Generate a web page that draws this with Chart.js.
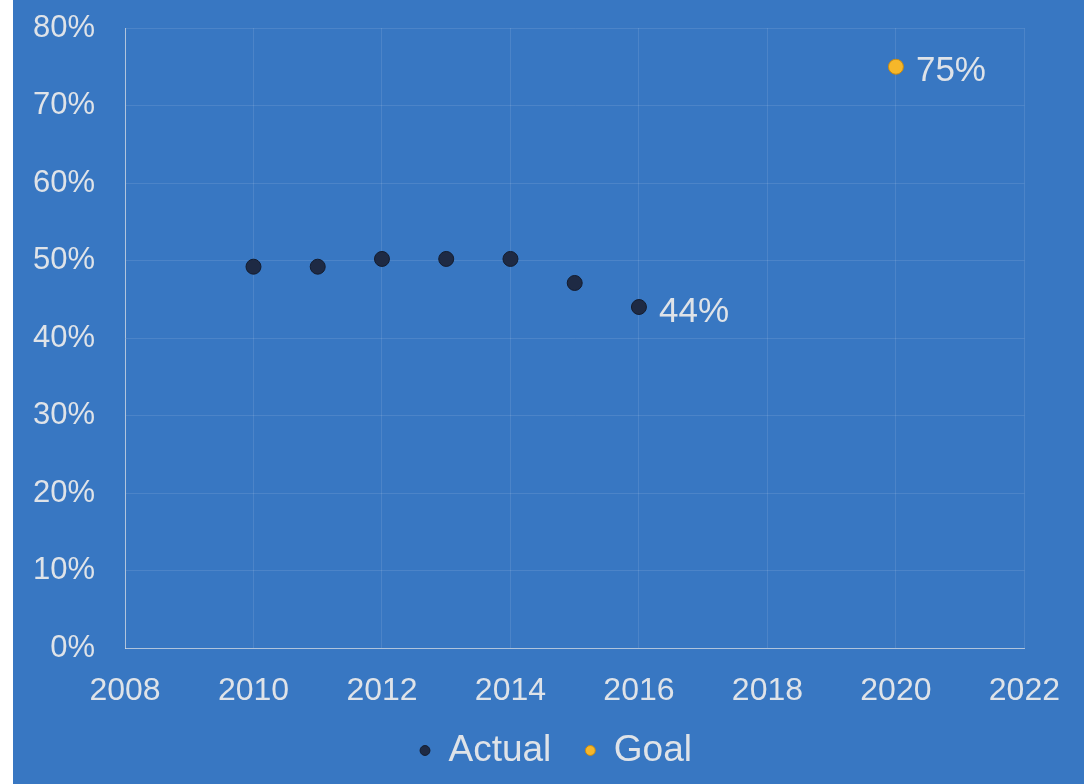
<!DOCTYPE html>
<html>
<head>
<meta charset="utf-8">
<script src="https://cdn.jsdelivr.net/npm/chart.js@4/dist/chart.umd.min.js"></script>
<style>
  html, body { margin: 0; padding: 0; background: #ffffff; }
  #wrap { position: absolute; left: 13px; top: 0; width: 1071px; height: 784px; background: #3877c2; }
</style>
</head>
<body>
<div id="wrap"><canvas id="chart"></canvas></div>
<script>
// datos
const actualYears = [2010, 2011, 2012, 2013, 2014, 2015, 2016];
const actualValues = [49.2, 49.2, 50.2, 50.2, 50.2, 47.1, 44];
const goalYears = [2020];
const goalValues = [75];
const seriesNames = ['Actual', 'Goal'];

const textColor = '#dfe3e8';
const fontFamily = '"Liberation Sans", Arial, sans-serif';

// etiqueta con el valor junto al último punto de cada serie
const lastValueLabel = {
    id: 'lastValueLabel',
    afterDatasetsDraw(chart) {
        const ctx = chart.ctx;
        ctx.save();
        ctx.font = '35px ' + fontFamily;
        ctx.fillStyle = textColor;
        ctx.textAlign = 'left';
        ctx.textBaseline = 'middle';
        chart.data.datasets.forEach((ds, i) => {
            const meta = chart.getDatasetMeta(i);
            const last = meta.data.length - 1;
            const pt = meta.data[last];
            ctx.fillText(ds.data[last].y + '%', pt.x + 20, pt.y + 5);
        });
        ctx.restore();
    }
};

// colocar la leyenda un poco más a la derecha y más arriba
const legendShift = {
    id: 'legendShift',
    afterLayout(chart) {
        const lg = chart.legend;
        if (lg) {
            lg.left += 37;
            lg.right += 37;
            lg.top -= 12;
            lg.bottom -= 12;
        }
    }
};

new Chart(document.getElementById('chart'), {
    type: 'scatter',
    data: {
        datasets: [{
            label: seriesNames[0],
            data: actualYears.map((x, i) => ({ x: x, y: actualValues[i] })),
            backgroundColor: '#1e2a44',
            borderColor: '#141c2e',
            borderWidth: 1,
            pointRadius: 7.5,
            pointHoverRadius: 7.5
        }, {
            label: seriesNames[1],
            data: goalYears.map((x, i) => ({ x: x, y: goalValues[i] })),
            backgroundColor: '#f6b72a',
            borderColor: '#c98a10',
            borderWidth: 1,
            pointRadius: 7.5,
            pointHoverRadius: 7.5
        }]
    },
    options: {
        responsive: true,
        maintainAspectRatio: false,
        animation: false,
        layout: { padding: { top: 28, right: 59, bottom: -7, left: 0 } },
        scales: {
            x: {
                type: 'linear',
                min: 2008,
                max: 2022,
                ticks: {
                    stepSize: 2,
                    padding: 24,
                    color: textColor,
                    font: { family: fontFamily, size: 32 },
                    callback: v => String(v)
                },
                grid: { color: 'rgba(255,255,255,0.10)', drawTicks: false },
                border: { color: 'rgba(230,230,230,0.65)', width: 1 },
                afterFit: axis => { axis.height = 62; }
            },
            y: {
                min: 0,
                max: 80,
                ticks: {
                    stepSize: 10,
                    padding: 30,
                    color: textColor,
                    font: { family: fontFamily, size: 31 },
                    callback: v => v + '%'
                },
                grid: { color: 'rgba(255,255,255,0.10)', drawTicks: false },
                border: { color: 'rgba(230,230,230,0.65)', width: 1 },
                afterFit: axis => {
                    axis.width = 112;
                    axis.paddingTop = 0;
                    axis.paddingBottom = 0;
                }
            }
        },
        plugins: {
            legend: {
                position: 'bottom',
                labels: {
                    usePointStyle: true,
                    pointStyle: 'circle',
                    boxWidth: 10,
                    boxHeight: 7,
                    padding: 34,
                    color: textColor,
                    font: { family: fontFamily, size: 37 }
                }
            },
            tooltip: { enabled: false }
        }
    },
    plugins: [lastValueLabel, legendShift]
});
</script>
</body>
</html>
